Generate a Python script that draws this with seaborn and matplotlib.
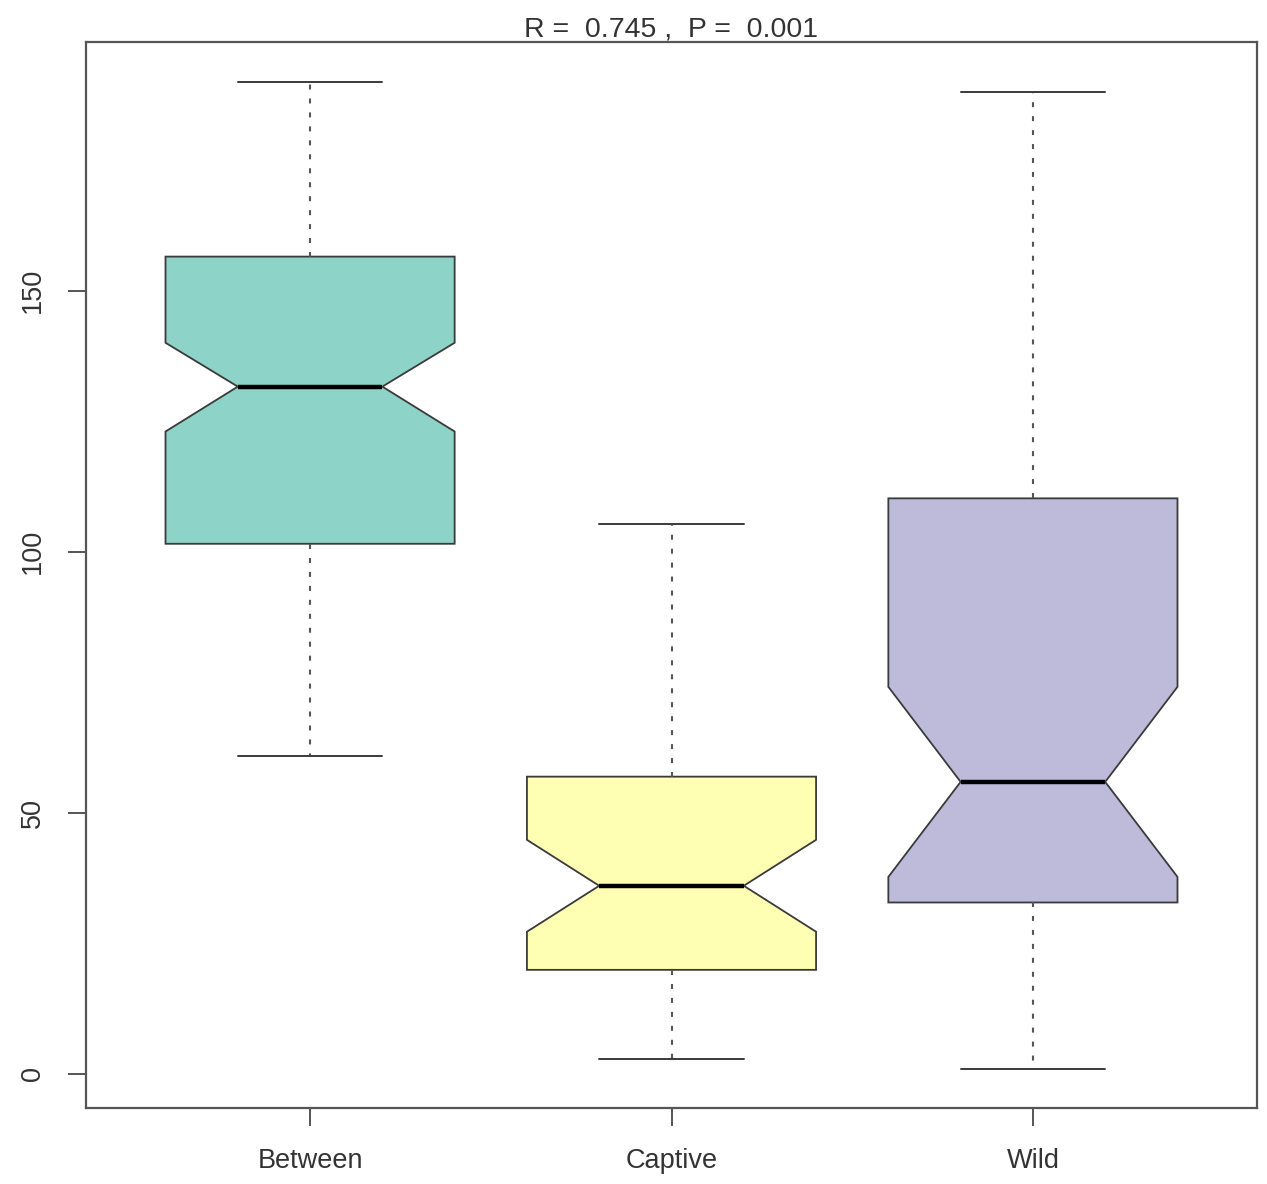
import numpy as np
import seaborn as sns
import matplotlib.pyplot as plt

# ============================================================================
# DATA (summary statistics)
# ============================================================================
groups = ["Between", "Captive", "Wild"]
whislo = [60.9, 2.9, 1.0]
q1 = [101.5, 19.9, 32.8]
med = [131.6, 36.0, 55.9]
q3 = [156.5, 56.9, 110.2]
whishi = [190.0, 105.2, 188.1]
cilo = [123.0, 27.2, 37.7]
cihi = [140.0, 44.8, 74.1]
yticks = [0, 50, 100, 150]
title_text = "R =  0.745 ,  P =  0.001"

# ============================================================================
# STYLE
# ============================================================================
sns.set_style("white")
plt.rcParams['font.family'] = ['Liberation Sans', 'DejaVu Sans']
colors = sns.color_palette("Set3", 3)
dark = "#3a3a3a"
grey = "#555555"

stats = []
for i, g in enumerate(groups):
    stats.append({
        'label': g, 'whislo': whislo[i], 'q1': q1[i], 'med': med[i],
        'q3': q3[i], 'whishi': whishi[i], 'cilo': cilo[i], 'cihi': cihi[i],
        'fliers': [],
    })

fig = plt.figure(figsize=(12.67, 11.84), dpi=100)
ax = fig.add_axes([86 / 1267, 1 - 1108 / 1184, (1257 - 86) / 1267, (1108 - 42) / 1184])

pos = np.arange(1, len(groups) + 1)
art = ax.bxp(
    stats, positions=pos, widths=0.8, patch_artist=True, shownotches=True,
    showfliers=False, manage_ticks=False,
    boxprops=dict(edgecolor=dark, linewidth=1.3),
    medianprops=dict(color='black', linewidth=3.2, solid_capstyle='butt'),
    whiskerprops=dict(color=grey, linewidth=1.5, linestyle=(0, (2.4, 4.3))),
    capprops=dict(color=dark, linewidth=1.4),
)
for patch, c in zip(art['boxes'], colors):
    patch.set_facecolor(c)

ax.set_xlim(0.38, 3.62)
ax.set_ylim(-6.56, 197.6)
ax.set_xticks(pos)
ax.set_xticklabels(groups)
ax.set_yticks(yticks)
ax.set_yticklabels([str(v) for v in yticks], rotation=90, va='center')

ax.tick_params(axis='both', which='both', direction='out', length=13, width=1.4,
               color=grey, labelsize=19.5, labelcolor='#333333', pad=16,
               left=True, bottom=True, top=False, right=False)

for s in ax.spines.values():
    s.set_visible(True)
    s.set_color('#555555')
    s.set_linewidth(1.6)

ax.set_title(title_text, fontsize=20.5, color='#333333', pad=3)
ax.grid(False)

fig.savefig("out.png", dpi=100)
